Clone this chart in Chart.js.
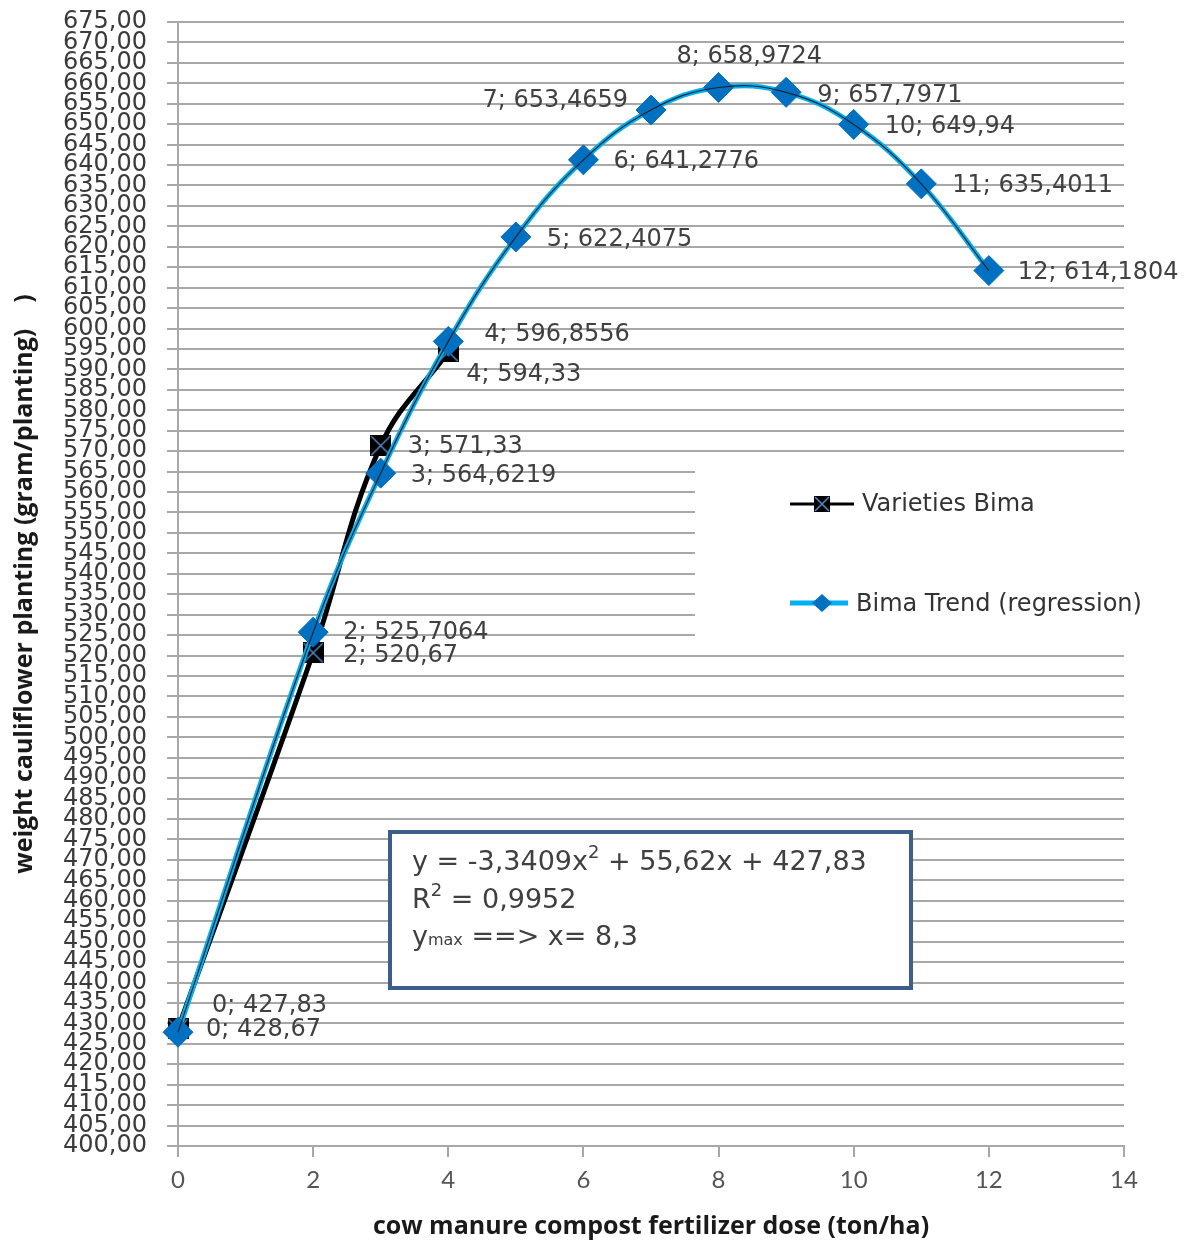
<!DOCTYPE html>
<html>
<head>
<meta charset="utf-8">
<title>Bima cauliflower weight vs compost dose</title>
<script src="https://cdn.jsdelivr.net/npm/chart.js@4.4.1/dist/chart.umd.min.js"></script>
<style>
  html, body { margin: 0; padding: 0; background: #fff; }
  #wrap { width: 1192px; height: 1242px; position: relative; }
</style>
</head>
<body>
<div id="wrap"><canvas id="weightChart"></canvas></div>
<script>
// measured weights, variety Bima
const bimaDoses = [0, 2, 3, 4];
const bimaWeights = [428.67, 520.67, 571.33, 594.33];

// weights from the quadratic regression
const trendDoses = [0, 2, 3, 4, 5, 6, 7, 8, 9, 10, 11, 12];
const trendWeights = [427.83, 525.7064, 564.6219, 596.8556, 622.4075, 641.2776,
                      653.4659, 658.9724, 657.7971, 649.94, 635.4011, 614.1804];

const xTicks = [0, 2, 4, 6, 8, 10, 12, 14];
const yMin = 400, yMax = 675, yStep = 5;

const fitCoefs = ['-3,3409', '55,62', '427,83'];
const fitR2 = '0,9952';
const fitPeak = '8,3';

const fmt = v => String(v).replace('.', ',');
const toPoints = (xs, ys) => xs.map((x, i) => ({ x: x, y: ys[i] }));

// label offsets from each point: [dx, dy, align]
const labelPlacement = {
  'Bima Trend (regression)': [
    [34, -26, 'left'], [30, 1, 'left'], [30, 3, 'left'], [36, -7, 'left'],
    [31, 3, 'left'], [30, 2, 'left'], [-23, -9, 'right'], [-42, -31, 'left'],
    [31, 3, 'left'], [31, 2, 'left'], [31, 2, 'left'], [29, 2, 'left']
  ],
  'Varieties Bima': [[28, 1, 'left'], [30, 3, 'left'], [27, 1, 'left'], [18, 23, 'left']]
};

// black square with a blue cross, used as the Bima marker
function crossSquare(size) {
  const c = document.createElement('canvas');
  c.width = size; c.height = size;
  const g = c.getContext('2d');
  g.fillStyle = '#000';
  g.fillRect(0, 0, size, size);
  g.strokeStyle = '#5a86c8';
  g.lineWidth = 1.5;
  g.beginPath();
  g.moveTo(1, 1); g.lineTo(size - 1, size - 1);
  g.moveTo(size - 1, 1); g.lineTo(1, size - 1);
  g.stroke();
  return c;
}

const LABEL_FONT = '24px "DejaVu Sans"';
const TEXT_COLOR = '#404040';

const pointLabels = {
  id: 'pointLabels',
  afterDatasetsDraw(chart) {
    const ctx = chart.ctx;
    ctx.save();
    ctx.font = LABEL_FONT;
    ctx.fillStyle = TEXT_COLOR;
    ctx.textBaseline = 'middle';
    chart.data.datasets.forEach((ds, i) => {
      const place = labelPlacement[ds.label];
      if (!place) return;
      chart.getDatasetMeta(i).data.forEach((pt, j) => {
        const [dx, dy, align] = place[j];
        ctx.textAlign = align;
        ctx.fillText(ds.data[j].x + '; ' + fmt(ds.data[j].y), pt.x + dx, pt.y + dy);
      });
    });
    ctx.restore();
  }
};

// legend sitting inside the plot, on a white patch
const sideLegend = {
  id: 'sideLegend',
  beforeDatasetsDraw(chart) {
    const ctx = chart.ctx;
    ctx.save();
    ctx.fillStyle = '#fff';
    ctx.fillRect(695, 461, 440, 186);

    ctx.lineCap = 'butt';
    ctx.strokeStyle = '#000';
    ctx.lineWidth = 3;
    ctx.beginPath(); ctx.moveTo(790, 504); ctx.lineTo(854, 504); ctx.stroke();
    ctx.drawImage(crossSquare(16), 814, 496);

    ctx.strokeStyle = '#00b0f0';
    ctx.lineWidth = 5;
    ctx.beginPath(); ctx.moveTo(790, 603); ctx.lineTo(848, 603); ctx.stroke();
    ctx.fillStyle = '#0070c0';
    ctx.beginPath();
    ctx.moveTo(822, 594); ctx.lineTo(832, 603); ctx.lineTo(822, 612); ctx.lineTo(812, 603);
    ctx.closePath(); ctx.fill();

    ctx.font = '24px "DejaVu Sans"';
    ctx.fillStyle = '#333';
    ctx.textBaseline = 'middle';
    ctx.textAlign = 'left';
    ctx.fillText('Varieties Bima', 862, 505);
    ctx.fillText('Bima Trend (regression)', 856, 605);
    ctx.restore();
  }
};

// text box with the fitted equation
const equationBox = {
  id: 'equationBox',
  afterDatasetsDraw(chart) {
    const ctx = chart.ctx;
    ctx.save();
    ctx.fillStyle = '#fff';
    ctx.fillRect(390, 832, 521, 156);
    ctx.strokeStyle = '#3b5e8c';
    ctx.lineWidth = 4;
    ctx.strokeRect(390, 832, 521, 156);

    ctx.fillStyle = TEXT_COLOR;
    ctx.textBaseline = 'alphabetic';
    ctx.textAlign = 'left';
    const big = '27px "DejaVu Sans"', small = '18px "DejaVu Sans"', tiny = '16px "DejaVu Sans"';
    let x;
    const run = (txt, font, y) => { ctx.font = font; ctx.fillText(txt, x, y); x += ctx.measureText(txt).width; };

    x = 412;
    run('y = ' + fitCoefs[0] + 'x', big, 870);
    run('2', small, 858);
    run(' + ' + fitCoefs[1] + 'x + ' + fitCoefs[2], big, 870);

    x = 412;
    run('R', big, 908);
    run('2', small, 896);
    run(' = ' + fitR2, big, 908);

    x = 412;
    run('y', big, 945);
    run('max', tiny, 945);
    run(' ==> x= ' + fitPeak, big, 945);
    ctx.restore();
  }
};

const gridColor = '#a8a8a8';

new Chart(document.getElementById('weightChart'), {
  type: 'scatter',
  data: {
    datasets: [
      {
        label: 'trend curve',
        data: toPoints(trendDoses, trendWeights),
        showLine: true,
        borderColor: '#1d2333',
        borderWidth: 1.2,
        pointRadius: 0,
        tension: 0.4,
        clip: false,
        order: 0
      },
      {
        label: 'Bima Trend (regression)',
        data: toPoints(trendDoses, trendWeights),
        showLine: true,
        borderColor: '#00b0f0',
        borderWidth: 5,
        pointStyle: 'rectRot',
        pointRadius: 15,
        pointBackgroundColor: '#0070c0',
        pointBorderColor: '#0070c0',
        pointBorderWidth: 1,
        tension: 0.4,
        clip: false,
        order: 1
      },
      {
        label: 'Varieties Bima',
        data: toPoints(bimaDoses, bimaWeights),
        showLine: true,
        borderColor: '#000',
        borderWidth: 5,
        pointStyle: crossSquare(21),
        tension: 0.4,
        clip: false,
        order: 2
      }
    ]
  },
  options: {
    responsive: true,
    maintainAspectRatio: false,
    devicePixelRatio: 1,
    animation: false,
    layout: { padding: { top: 22, right: 68, left: 0, bottom: 0 } },
    plugins: {
      legend: { display: false },
      tooltip: { enabled: false }
    },
    scales: {
      x: {
        type: 'linear',
        min: xTicks[0],
        max: xTicks[xTicks.length - 1],
        afterBuildTicks: s => { s.ticks = xTicks.map(v => ({ value: v })); },
        afterFit: s => { s.height = 96; s.paddingLeft = 0; s.paddingRight = 0; },
        grid: { drawOnChartArea: false, drawTicks: true, tickLength: 11, color: gridColor, lineWidth: 2 },
        border: { display: true, color: gridColor, width: 2 },
        ticks: {
          padding: 9,
          color: '#555',
          font: { family: 'Lato', size: 24 },
          maxRotation: 0
        },
        title: {
          display: true,
          text: 'cow manure compost fertilizer dose (ton/ha)',
          color: '#1a1a1a',
          font: { family: 'Open Sans', size: 25, weight: 'bold' },
          padding: { top: 0, bottom: 0 }
        }
      },
      y: {
        min: yMin,
        max: yMax,
        afterFit: s => { s.width = 178; s.paddingTop = 0; s.paddingBottom = 0; },
        grid: { color: gridColor, lineWidth: 2, tickLength: 11 },
        border: { display: true, color: gridColor, width: 2 },
        ticks: {
          stepSize: yStep,
          autoSkip: false,
          padding: 20,
          color: '#3a3a3a',
          font: { family: 'DejaVu Sans', size: 24, lineHeight: 1 },
          callback: v => v.toFixed(2).replace('.', ',')
        },
        title: {
          display: true,
          text: 'weight cauliflower planting (gram/planting)    )',
          color: '#1a1a1a',
          font: { family: 'Open Sans', size: 25, weight: 'bold' },
          padding: { top: 10, bottom: 0 }
        }
      }
    }
  },
  plugins: [sideLegend, pointLabels, equationBox]
});
</script>
</body>
</html>
